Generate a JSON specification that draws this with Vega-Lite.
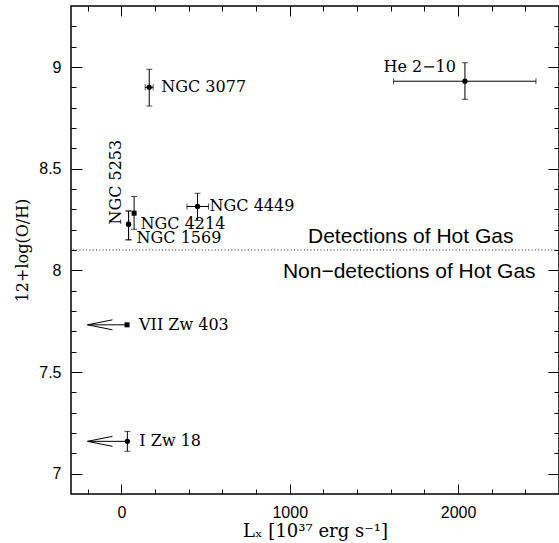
{
  "$schema": "https://vega.github.io/schema/vega-lite/v6.json",
  "width": 488,
  "height": 488,
  "autosize": {"type": "none"},
  "padding": {"left": 71, "top": 6, "right": 0, "bottom": 49},
  "background": "white",
  "config": {
    "view": {"stroke": "black", "strokeWidth": 1.5},
    "axis": {
      "grid": false,
      "domain": false,
      "tickColor": "black",
      "tickWidth": 1,
      "labelColor": "black",
      "titleColor": "black",
      "labelFont": "Liberation Sans",
      "labelFontSize": 16,
      "titleFont": "DejaVu Serif",
      "titleFontSize": 16,
      "titleFontWeight": "normal"
    }
  },
  "datasets": {
    "gal": [
      {"name": "NGC 3077", "x": 165, "y": 8.9, "xlo": 141, "xhi": 188, "ylo": 8.808, "yhi": 8.989},
      {"name": "He 2−10", "x": 2041, "y": 8.93, "xlo": 1617, "xhi": 2463, "ylo": 8.841, "yhi": 9.021},
      {"name": "NGC 4449", "x": 452, "y": 8.314, "xlo": 389, "xhi": 517, "ylo": 8.245, "yhi": 8.379},
      {"name": "NGC 5253", "x": 75, "y": 8.281, "ylo": 8.202, "yhi": 8.363},
      {"name": "NGC 4214", "x": 42, "y": 8.227, "ylo": 8.15, "yhi": 8.292},
      {"name": "NGC 1569", "x": 42, "y": 8.227, "ylo": 8.15, "yhi": 8.292},
      {"name": "VII Zw 403", "x": 33, "y": 7.732, "xlim": -202},
      {"name": "I Zw 18", "x": 35, "y": 7.159, "ylo": 7.11, "yhi": 7.208, "xlim": -202}
    ],
    "notes": [
      {"label": "Detections of Hot Gas", "x": 1719, "y": 8.165},
      {"label": "Non−detections of Hot Gas", "x": 1710, "y": 7.994}
    ]
  },
  "data": {"name": "gal"},
  "layer": [
    {
      "data": {"values": [{}]},
      "mark": {"type": "rule", "strokeDash": [1, 2.3], "color": "#222222", "strokeWidth": 1},
      "encoding": {
        "y": {"datum": 8.1, "type": "quantitative", "scale": {"domain": [6.9, 9.3], "nice": false, "zero": false}, "axis": null}
      }
    },
    {
      "transform": [{"filter": "isValid(datum.ylo)"}],
      "mark": {"type": "errorbar", "color": "black", "ticks": {"size": 6, "color": "black"}, "rule": {"strokeWidth": 1}},
      "encoding": {
        "x": {"field": "x", "type": "quantitative", "scale": {"domain": [-300, 2600], "nice": false, "zero": false}, "axis": null},
        "y": {"field": "ylo", "type": "quantitative", "scale": {"domain": [6.9, 9.3], "nice": false, "zero": false}, "axis": null},
        "y2": {"field": "yhi"}
      }
    },
    {
      "transform": [{"filter": "isValid(datum.xlo)"}],
      "mark": {"type": "errorbar", "color": "black", "ticks": {"size": 6, "color": "black"}, "rule": {"strokeWidth": 1}},
      "encoding": {
        "y": {"field": "y", "type": "quantitative", "scale": {"domain": [6.9, 9.3], "nice": false, "zero": false}, "axis": null},
        "x": {"field": "xlo", "type": "quantitative", "scale": {"domain": [-300, 2600], "nice": false, "zero": false}, "axis": null},
        "x2": {"field": "xhi"}
      }
    },
    {
      "transform": [{"filter": "isValid(datum.xlim)"}],
      "mark": {"type": "rule", "color": "black", "strokeWidth": 1},
      "encoding": {
        "x": {"field": "x", "type": "quantitative", "scale": {"domain": [-300, 2600], "nice": false, "zero": false}, "axis": null},
        "x2": {"field": "xlim"},
        "y": {"field": "y", "type": "quantitative", "scale": {"domain": [6.9, 9.3], "nice": false, "zero": false}, "axis": null}
      }
    },
    {
      "transform": [{"filter": "isValid(datum.xlim)"}],
      "mark": {"type": "point", "shape": "M0,0L2,-0.4M0,0L2,0.4", "size": 625, "filled": false, "stroke": "black", "strokeWidth": 1, "opacity": 1},
      "encoding": {
        "x": {"field": "xlim", "type": "quantitative", "scale": {"domain": [-300, 2600], "nice": false, "zero": false}, "axis": null},
        "y": {"field": "y", "type": "quantitative", "scale": {"domain": [6.9, 9.3], "nice": false, "zero": false}, "axis": null}
      }
    },
    {
      "transform": [{"filter": "datum.name != 'NGC 5253' && datum.name != 'VII Zw 403'"}],
      "mark": {"type": "point", "shape": "circle", "filled": true, "color": "black", "size": 28, "opacity": 1},
      "encoding": {
        "x": {"field": "x", "type": "quantitative", "scale": {"domain": [-300, 2600], "nice": false, "zero": false}, "axis": null},
        "y": {"field": "y", "type": "quantitative", "scale": {"domain": [6.9, 9.3], "nice": false, "zero": false}, "axis": null}
      }
    },
    {
      "transform": [{"filter": "datum.name == 'NGC 5253' || datum.name == 'VII Zw 403'"}],
      "mark": {"type": "point", "shape": "square", "filled": true, "color": "black", "size": 25, "opacity": 1},
      "encoding": {
        "x": {"field": "x", "type": "quantitative", "scale": {"domain": [-300, 2600], "nice": false, "zero": false}, "axis": null},
        "y": {"field": "y", "type": "quantitative", "scale": {"domain": [6.9, 9.3], "nice": false, "zero": false}, "axis": null}
      }
    },
    {
      "transform": [{"filter": "indexof(['NGC 3077','NGC 4449','NGC 4214','VII Zw 403','I Zw 18'], datum.name) >= 0"}],
      "mark": {"type": "text", "align": "left", "baseline": "middle", "dx": 12, "font": "DejaVu Serif", "fontSize": 16, "color": "black"},
      "encoding": {
        "x": {"field": "x", "type": "quantitative", "scale": {"domain": [-300, 2600], "nice": false, "zero": false}, "axis": null},
        "y": {"field": "y", "type": "quantitative", "scale": {"domain": [6.9, 9.3], "nice": false, "zero": false}, "axis": null},
        "text": {"field": "name"}
      }
    },
    {
      "transform": [{"filter": "datum.name == 'NGC 1569'"}],
      "mark": {"type": "text", "align": "left", "baseline": "middle", "dx": 8, "dy": 14, "font": "DejaVu Serif", "fontSize": 16, "color": "black"},
      "encoding": {
        "x": {"field": "x", "type": "quantitative", "scale": {"domain": [-300, 2600], "nice": false, "zero": false}, "axis": null},
        "y": {"field": "y", "type": "quantitative", "scale": {"domain": [6.9, 9.3], "nice": false, "zero": false}, "axis": null},
        "text": {"field": "name"}
      }
    },
    {
      "transform": [{"filter": "datum.name == 'He 2−10'"}],
      "mark": {"type": "text", "align": "right", "baseline": "middle", "dx": -9, "dy": -14, "font": "DejaVu Serif", "fontSize": 16, "color": "black"},
      "encoding": {
        "x": {"field": "x", "type": "quantitative", "scale": {"domain": [-300, 2600], "nice": false, "zero": false}, "axis": null},
        "y": {"field": "y", "type": "quantitative", "scale": {"domain": [6.9, 9.3], "nice": false, "zero": false}, "axis": null},
        "text": {"field": "name"}
      }
    },
    {
      "transform": [{"filter": "datum.name == 'NGC 5253'"}],
      "mark": {"type": "text", "align": "center", "baseline": "middle", "angle": 270, "dx": 31, "dy": -18, "font": "DejaVu Serif", "fontSize": 16, "color": "black"},
      "encoding": {
        "x": {"field": "x", "type": "quantitative", "scale": {"domain": [-300, 2600], "nice": false, "zero": false}, "axis": null},
        "y": {"field": "y", "type": "quantitative", "scale": {"domain": [6.9, 9.3], "nice": false, "zero": false}, "axis": null},
        "text": {"field": "name"}
      }
    },
    {
      "data": {"name": "notes"},
      "mark": {"type": "text", "align": "center", "baseline": "middle", "font": "Liberation Sans", "fontSize": 21, "color": "black"},
      "encoding": {
        "x": {"field": "x", "type": "quantitative", "scale": {"domain": [-300, 2600], "nice": false, "zero": false}, "axis": null},
        "y": {"field": "y", "type": "quantitative", "scale": {"domain": [6.9, 9.3], "nice": false, "zero": false}, "axis": null},
        "text": {"field": "label"}
      }
    },
    {
      "mark": {"type": "point", "opacity": 0},
      "encoding": {
        "x": {"field": "x", "type": "quantitative", "scale": {"domain": [-300, 2600], "nice": false, "zero": false},
          "axis": {"orient": "bottom", "values": [0, 1000, 2000], "ticks": false, "labelExpr": "'' + datum.value", "labelPadding": 10, "title": "Lₓ [10³⁷ erg s⁻¹]", "titleFontSize": 18, "titlePadding": 2}},
        "y": {"field": "y", "type": "quantitative", "scale": {"domain": [6.9, 9.3], "nice": false, "zero": false},
          "axis": {"orient": "left", "values": [7, 7.5, 8, 8.5, 9], "ticks": false, "labelExpr": "'' + datum.value", "labelPadding": 10, "title": "12+log(O/H)", "titlePadding": 8}}
      }
    },
    {
      "mark": {"type": "point", "opacity": 0},
      "encoding": {
        "x": {"field": "x", "type": "quantitative", "scale": {"domain": [-300, 2600], "nice": false, "zero": false},
          "axis": {"orient": "bottom", "values": [0, 1000, 2000], "tickSize": -10, "labels": false, "title": null}},
        "y": {"field": "y", "type": "quantitative", "scale": {"domain": [6.9, 9.3], "nice": false, "zero": false},
          "axis": {"orient": "left", "values": [7, 7.5, 8, 8.5, 9], "tickSize": -11, "labels": false, "title": null}}
      }
    },
    {
      "mark": {"type": "point", "opacity": 0},
      "encoding": {
        "x": {"field": "x", "type": "quantitative", "scale": {"domain": [-300, 2600], "nice": false, "zero": false},
          "axis": {"orient": "bottom", "values": [-200, 200, 400, 600, 800, 1200, 1400, 1600, 1800, 2200, 2400], "tickSize": -5, "labels": false, "title": null}},
        "y": {"field": "y", "type": "quantitative", "scale": {"domain": [6.9, 9.3], "nice": false, "zero": false},
          "axis": {"orient": "left", "values": [7.1, 7.2, 7.3, 7.4, 7.6, 7.7, 7.8, 7.9, 8.1, 8.2, 8.3, 8.4, 8.6, 8.7, 8.8, 8.9, 9.1, 9.2], "tickSize": -5, "labels": false, "title": null}}
      }
    },
    {
      "mark": {"type": "point", "opacity": 0},
      "encoding": {
        "x": {"field": "x", "type": "quantitative", "scale": {"domain": [-300, 2600], "nice": false, "zero": false},
          "axis": {"orient": "top", "values": [0, 1000, 2000], "tickSize": -10, "labels": false, "title": null}},
        "y": {"field": "y", "type": "quantitative", "scale": {"domain": [6.9, 9.3], "nice": false, "zero": false},
          "axis": {"orient": "right", "values": [7, 7.5, 8, 8.5, 9], "tickSize": -11, "labels": false, "title": null}}
      }
    },
    {
      "mark": {"type": "point", "opacity": 0},
      "encoding": {
        "x": {"field": "x", "type": "quantitative", "scale": {"domain": [-300, 2600], "nice": false, "zero": false},
          "axis": {"orient": "top", "values": [-200, 200, 400, 600, 800, 1200, 1400, 1600, 1800, 2200, 2400], "tickSize": -5, "labels": false, "title": null}},
        "y": {"field": "y", "type": "quantitative", "scale": {"domain": [6.9, 9.3], "nice": false, "zero": false},
          "axis": {"orient": "right", "values": [7.1, 7.2, 7.3, 7.4, 7.6, 7.7, 7.8, 7.9, 8.1, 8.2, 8.3, 8.4, 8.6, 8.7, 8.8, 8.9, 9.1, 9.2], "tickSize": -5, "labels": false, "title": null}}
      }
    }
  ],
  "resolve": {"axis": {"x": "independent", "y": "independent"}}
}
